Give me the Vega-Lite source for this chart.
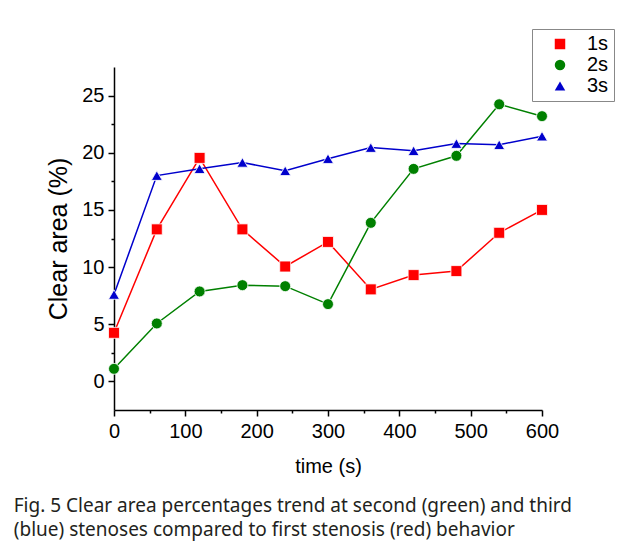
{
  "$schema": "https://vega.github.io/schema/vega-lite/v6.json",
  "width": 428,
  "height": 343,
  "autosize": "none",
  "padding": {"left": 114, "top": 67, "right": 81, "bottom": 138},
  "background": "white",
  "config": {"view": {"stroke": null}, "font": "Liberation Sans"},
  "title": {
    "text": ["Fig. 5  Clear area percentages trend at second (green) and third", "(blue) stenoses compared to first stenosis (red) behavior"],
    "orient": "bottom",
    "anchor": "start",
    "frame": "bounds",
    "dx": -33,
    "font": "Noto Sans",
    "fontSize": 19,
    "fontWeight": "normal",
    "color": "#231f20",
    "offset": 21,
    "lineHeight": 24
  },
  "data": {
    "values": [
      {"time": 0, "series": "1s", "area": 4.25},
      {"time": 60, "series": "1s", "area": 13.3},
      {"time": 120, "series": "1s", "area": 19.55},
      {"time": 180, "series": "1s", "area": 13.3},
      {"time": 240, "series": "1s", "area": 10.05},
      {"time": 300, "series": "1s", "area": 12.2},
      {"time": 360, "series": "1s", "area": 8.05},
      {"time": 420, "series": "1s", "area": 9.3},
      {"time": 480, "series": "1s", "area": 9.65},
      {"time": 540, "series": "1s", "area": 13.0},
      {"time": 600, "series": "1s", "area": 15.0},
      {"time": 0, "series": "2s", "area": 1.1},
      {"time": 60, "series": "2s", "area": 5.07},
      {"time": 120, "series": "2s", "area": 7.87},
      {"time": 180, "series": "2s", "area": 8.42},
      {"time": 240, "series": "2s", "area": 8.33},
      {"time": 300, "series": "2s", "area": 6.76},
      {"time": 360, "series": "2s", "area": 13.87},
      {"time": 420, "series": "2s", "area": 18.59},
      {"time": 480, "series": "2s", "area": 19.73},
      {"time": 540, "series": "2s", "area": 24.24},
      {"time": 600, "series": "2s", "area": 23.2},
      {"time": 0, "series": "3s", "area": 7.6},
      {"time": 60, "series": "3s", "area": 18.0},
      {"time": 120, "series": "3s", "area": 18.6},
      {"time": 180, "series": "3s", "area": 19.15},
      {"time": 240, "series": "3s", "area": 18.42},
      {"time": 300, "series": "3s", "area": 19.48},
      {"time": 360, "series": "3s", "area": 20.45},
      {"time": 420, "series": "3s", "area": 20.17},
      {"time": 480, "series": "3s", "area": 20.8},
      {"time": 540, "series": "3s", "area": 20.7},
      {"time": 600, "series": "3s", "area": 21.45}
    ]
  },
  "mark": {"type": "line", "strokeWidth": 1.5, "point": {"filled": true, "size": 120, "stroke": "white", "strokeWidth": 0.8}},
  "encoding": {
    "x": {
      "field": "time",
      "type": "quantitative",
      "scale": {"domain": [0, 600], "nice": false},
      "axis": {
        "title": "time (s)",
        "values": [0, 50, 100, 150, 200, 250, 300, 350, 400, 450, 500, 550, 600],
        "labelExpr": "datum.value % 100 === 0 ? datum.label : ''",
        "tickSize": {"condition": {"test": "datum.value % 100 === 0", "value": 6}, "value": 3},
        "grid": false,
        "domainColor": "black",
        "domainWidth": 1.5,
        "tickColor": "black",
        "tickWidth": 1.5,
        "labelColor": "black",
        "labelFont": "Liberation Sans",
        "labelFontSize": 20,
        "labelPadding": 5,
        "labelFlush": false,
        "titleColor": "black",
        "titleFont": "Liberation Sans",
        "titleFontSize": 20,
        "titleFontWeight": "normal",
        "titlePadding": 15
      }
    },
    "y": {
      "field": "area",
      "type": "quantitative",
      "scale": {"domain": [-2.5, 27.5], "nice": false, "zero": false},
      "axis": {
        "title": "Clear area (%)",
        "values": [0, 2.5, 5, 7.5, 10, 12.5, 15, 17.5, 20, 22.5, 25],
        "labelExpr": "datum.value % 5 === 0 ? datum.label : ''",
        "tickSize": {"condition": {"test": "datum.value % 5 === 0", "value": 6}, "value": 3},
        "grid": false,
        "domainColor": "black",
        "domainWidth": 1.5,
        "tickColor": "black",
        "tickWidth": 1.5,
        "labelColor": "black",
        "labelFont": "Liberation Sans",
        "labelFontSize": 20,
        "labelPadding": 4,
        "labelFlush": false,
        "titleColor": "black",
        "titleFont": "Liberation Sans",
        "titleFontSize": 25,
        "titleFontWeight": "normal",
        "titlePadding": 10
      }
    },
    "color": {
      "field": "series",
      "type": "nominal",
      "scale": {"domain": ["1s", "2s", "3s"], "range": ["#ff0000", "#008000", "#0000cc"]},
      "legend": {
        "title": null,
        "orient": "none",
        "legendX": 418,
        "legendY": -38,
        "strokeColor": "#888888",
        "padding": 5,
        "labelFont": "Liberation Sans",
        "labelFontSize": 20,
        "labelColor": "black",
        "symbolOffset": 13,
        "labelOffset": 17,
        "symbolSize": 110,
        "symbolStrokeWidth": 0,
        "rowPadding": 1
      }
    },
    "shape": {
      "field": "series",
      "type": "nominal",
      "scale": {"domain": ["1s", "2s", "3s"], "range": ["square", "circle", "triangle-up"]}
    }
  }
}
